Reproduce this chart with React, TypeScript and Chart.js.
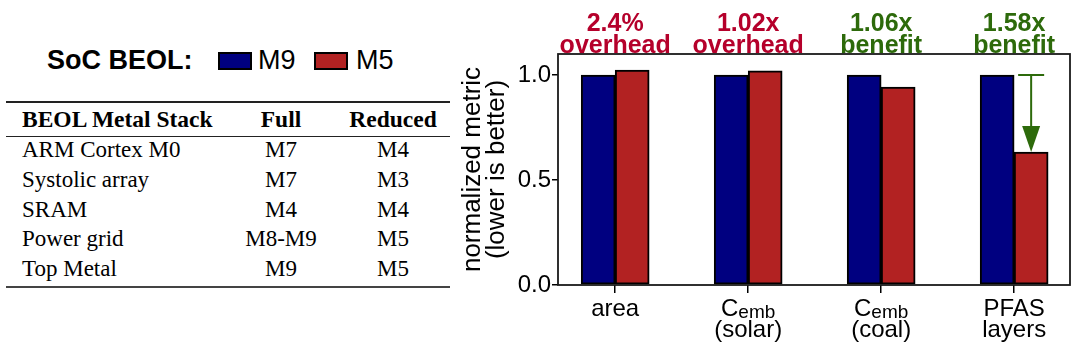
import React, { useEffect, useRef } from 'react';
import { Chart, registerables } from 'chart.js';

Chart.register(...registerables);

// ---- data ----
const categories = ['area', 'C_emb (solar)', 'C_emb (coal)', 'PFAS layers'];
const tickLines: string[][] = [['area'], ['', '(solar)'], ['', '(coal)'], ['PFAS', 'layers']];
const subscriptLabel = ['', 'C|emb', 'C|emb', ''];
const seriesNames = ['M9', 'M5'];
const m9Values = [1.0, 1.0, 1.0, 1.0];
const m5Values = [1.024, 1.02, 0.943, 0.633];
const annotValue = ['2.4%', '1.02x', '1.06x', '1.58x'];
const annotKind = ['overhead', 'overhead', 'benefit', 'benefit'];
const yTicks = [0, 0.5, 1.0];
const arrowCategory = 3;
const yTitle = ['normalized metric', '(lower is better)'];
const legendTitle = 'SoC BEOL:';
const tableHeader = ['BEOL Metal Stack', 'Full', 'Reduced'];
const tableRows: string[][] = [
  ['ARM Cortex M0', 'M7', 'M4'],
  ['Systolic array', 'M7', 'M3'],
  ['SRAM', 'M4', 'M4'],
  ['Power grid', 'M8-M9', 'M5'],
  ['Top Metal', 'M9', 'M5'],
];

// ---- styles ----
const BLUE = '#000080';
const RED = '#b22222';
const GREEN = '#2d6a0b';
const CRIMSON = '#b5002b';
const SANS = '"Liberation Sans", Arial, Helvetica, sans-serif';
const SERIF = '"Liberation Serif", "Times New Roman", serif';

const decorPlugin = {
  id: 'decor',
  afterDraw(chart: any) {
    const { ctx, chartArea, scales } = chart;
    const xs = scales.x;
    const ys = scales.y;
    ctx.save();
    // frame
    ctx.strokeStyle = '#1a1a1a';
    ctx.lineWidth = 1.8;
    ctx.strokeRect(chartArea.left, chartArea.top, chartArea.right - chartArea.left, chartArea.bottom - chartArea.top);

    // annotations above the plot
    ctx.font = `bold 25px ${SANS}`;
    ctx.textAlign = 'center';
    ctx.textBaseline = 'alphabetic';
    categories.forEach((_, i) => {
      const x = xs.getPixelForValue(i);
      ctx.fillStyle = annotKind[i] === 'overhead' ? CRIMSON : GREEN;
      ctx.fillText(annotValue[i], x, chartArea.top - 23);
      ctx.fillText(annotKind[i], x, chartArea.top - 1);
    });

    // subscript tick labels (C_emb)
    const lh = 24 * 0.875;
    const ymid = xs.top + 8 + 6 + lh / 2;
    categories.forEach((_, i) => {
      if (!subscriptLabel[i]) return;
      const [main, sub] = subscriptLabel[i].split('|');
      const cx = xs.getPixelForValue(i);
      ctx.font = `24px ${SANS}`;
      const wMain = ctx.measureText(main).width;
      ctx.font = `19px ${SANS}`;
      const wSub = ctx.measureText(sub).width;
      const start = cx - (wMain + wSub) / 2;
      ctx.fillStyle = '#000';
      ctx.textAlign = 'left';
      ctx.font = `24px ${SANS}`;
      ctx.textBaseline = 'middle';
      const m = ctx.measureText(main);
      ctx.fillText(main, start, ymid);
      const base = ymid + m.actualBoundingBoxDescent;
      ctx.font = `19px ${SANS}`;
      ctx.textBaseline = 'alphabetic';
      ctx.fillText(sub, start + wMain, base + 2);
    });

    // benefit arrow
    const bar = chart.getDatasetMeta(1).data[arrowCategory];
    const ax = bar.x;
    const y1 = ys.getPixelForValue(m9Values[arrowCategory]);
    const y2 = ys.getPixelForValue(m5Values[arrowCategory]);
    const headH = 26;
    const headW = 18;
    ctx.strokeStyle = GREEN;
    ctx.fillStyle = GREEN;
    ctx.lineWidth = 2;
    ctx.beginPath();
    ctx.moveTo(ax - 13, y1);
    ctx.lineTo(ax + 13, y1);
    ctx.moveTo(ax, y1);
    ctx.lineTo(ax, y2 - headH);
    ctx.stroke();
    ctx.beginPath();
    ctx.moveTo(ax - headW / 2, y2 - headH);
    ctx.lineTo(ax + headW / 2, y2 - headH);
    ctx.lineTo(ax, y2);
    ctx.closePath();
    ctx.fill();
    ctx.restore();
  },
};

export default function App() {
  const ref = useRef<HTMLCanvasElement>(null);

  useEffect(() => {
    if (!ref.current) return;
    const chart = new Chart(ref.current, {
      type: 'bar',
      data: {
        datasets: [
          {
            label: seriesNames[0],
            data: m9Values.map((v, i) => ({ x: i, y: v })),
            backgroundColor: BLUE,
            borderColor: '#000',
            borderWidth: 2,
            borderSkipped: false,
            barThickness: 34,
          },
          {
            label: seriesNames[1],
            data: m5Values.map((v, i) => ({ x: i, y: v })),
            backgroundColor: RED,
            borderColor: '#000',
            borderWidth: 2,
            borderSkipped: false,
            barThickness: 34,
          },
        ],
      } as any,
      options: {
        responsive: false,
        animation: false,
        layout: { padding: { top: 54, right: 10, left: 0, bottom: 0 } },
        plugins: { legend: { display: false }, tooltip: { enabled: false } },
        scales: {
          x: {
            type: 'linear',
            min: -0.43,
            max: 3.42,
            offset: false,
            border: { display: false },
            grid: {
              display: true,
              drawOnChartArea: false,
              drawTicks: true,
              tickLength: 8,
              color: '#000',
              lineWidth: 1.5,
              offset: false,
            },
            afterBuildTicks: (s: any) => {
              s.ticks = categories.map((_, i) => ({ value: i }));
            },
            afterFit: (s: any) => {
              s.height = 76;
            },
            ticks: {
              callback: (v: any) => tickLines[v] ?? '',
              font: { family: SANS, size: 24, lineHeight: 0.875 },
              color: '#000',
              padding: 6,
              maxRotation: 0,
              autoSkip: false,
            },
          },
          y: {
            min: 0,
            max: 1.1,
            border: { display: false },
            grid: {
              display: true,
              drawOnChartArea: false,
              drawTicks: true,
              tickLength: 6,
              color: '#000',
              lineWidth: 1.5,
            },
            afterBuildTicks: (s: any) => {
              s.ticks = yTicks.map((v) => ({ value: v }));
            },
            afterFit: (s: any) => {
              s.width = 102;
            },
            ticks: {
              callback: (v: any) => Number(v).toFixed(1),
              font: { family: SANS, size: 24 },
              color: '#000',
              padding: 1,
            },
            title: {
              display: true,
              text: yTitle,
              font: { family: SANS, size: 26, lineHeight: 0.95 },
              color: '#000',
              padding: { top: 4, bottom: 0 },
            },
          },
        },
      } as any,
      plugins: [decorPlugin],
    });
    return () => chart.destroy();
  }, []);

  const rowTops = [135.3, 164.9, 194.5, 224.1, 253.7];
  const colStyle = (c: number): React.CSSProperties =>
    c === 0
      ? { left: 22, textAlign: 'left' }
      : c === 1
      ? { left: 231, width: 100, textAlign: 'center' }
      : { left: 343, width: 100, textAlign: 'center' };

  return (
    <div>
      <div style={{ position: 'absolute', left: 0, top: 0, width: 456, height: 361, color: '#000' }}>
        {/* legend */}
        <div style={{ position: 'absolute', left: 47, top: 45, font: `bold 27px/30px ${SANS}`, whiteSpace: 'nowrap' }}>
          {legendTitle}
        </div>
        <div style={{ position: 'absolute', left: 218, top: 52, width: 34, height: 18, background: BLUE, border: '2px solid #000', boxSizing: 'border-box' }} />
        <div style={{ position: 'absolute', left: 258, top: 45, font: `27px/30px ${SANS}`, whiteSpace: 'nowrap' }}>{seriesNames[0]}</div>
        <div style={{ position: 'absolute', left: 314, top: 52, width: 34, height: 18, background: RED, border: '2px solid #000', boxSizing: 'border-box' }} />
        <div style={{ position: 'absolute', left: 356, top: 45, font: `27px/30px ${SANS}`, whiteSpace: 'nowrap' }}>{seriesNames[1]}</div>

        {/* table rules */}
        <div style={{ position: 'absolute', left: 6, top: 101, width: 444, height: 1.5, background: '#222' }} />
        <div style={{ position: 'absolute', left: 6, top: 135.5, width: 444, height: 1, background: '#222' }} />
        <div style={{ position: 'absolute', left: 6, top: 286, width: 444, height: 2.2, background: '#444' }} />

        {/* header */}
        {tableHeader.map((h, c) => (
          <div key={'h' + c} style={{ position: 'absolute', top: 104.2, font: `bold 23.5px/30px ${SERIF}`, whiteSpace: 'nowrap', ...colStyle(c) }}>
            {h}
          </div>
        ))}
        {tableRows.map((row, r) =>
          row.map((cell, c) => (
            <div key={r + '-' + c} style={{ position: 'absolute', top: rowTops[r], font: `23px/30px ${SERIF}`, whiteSpace: 'nowrap', ...colStyle(c) }}>
              {cell}
            </div>
          ))
        )}
      </div>
      <canvas
        ref={ref}
        width={624}
        height={361}
        style={{ position: 'absolute', left: 456, top: 0, width: 624, height: 361, display: 'block' }}
      />
    </div>
  );
}
